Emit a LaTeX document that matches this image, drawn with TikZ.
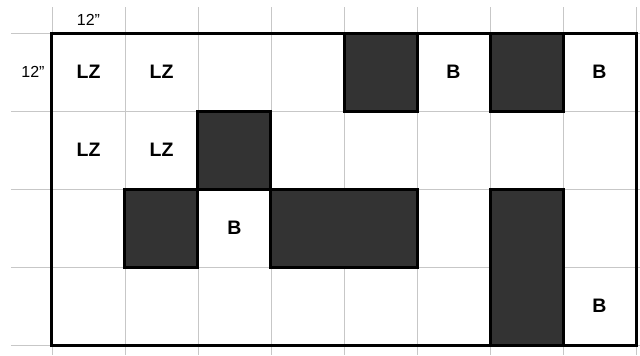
\documentclass[tikz,border=0pt]{standalone}
\usepackage{fontspec}
\setmainfont{Liberation Sans}
\usepackage{tikz}
\usetikzlibrary{positioning}

\begin{document}
\begin{tikzpicture}[
    x=73pt, y=-78pt,
    gridline/.style={draw=black!22, line width=0.8pt},
    border/.style={draw=black, line width=3pt},
    block/.style={draw=black, line width=3pt, fill=black!80},
    cell/.style={font=\fontsize{19.5}{22}\selectfont\bfseries, inner sep=0pt},
    dim/.style={font=\fontsize{16}{19}\selectfont, inner sep=0pt},
]
    \useasboundingbox[fill=white] (-0.7123,-0.4231) rectangle (8.0548,4.1282);

    % thin grid
    \foreach \i in {0,...,8}
        \draw[gridline] (\i,-0.333) -- (\i,4.1282);
    \foreach \j in {0,...,4}
        \draw[gridline] (-0.5616,\j) -- (8.0548,\j);

    % outer wall
    \draw[border] (0,0) rectangle (8,4);

    % blocked cells
    \draw[block] (4,0) rectangle (5,1);
    \draw[block] (6,0) rectangle (7,1);
    \draw[block] (2,1) rectangle (3,2);
    \draw[block] (1,2) rectangle (2,3);
    \draw[block] (3,2) rectangle (5,3);
    \draw[block] (6,2) rectangle (7,4);

    % dimensions
    \node[dim] (dimx) at (0.5,-0.167) {12\symbol{34}};
    \node[dim] (dimy) at (-0.26,0.5) {12\symbol{34}};

    % landing zone
    \node[cell] (lz1) at (0.5,0.5) {LZ};
    \node[cell] (lz2) at (1.5,0.5) {LZ};
    \node[cell] (lz3) at (0.5,1.5) {LZ};
    \node[cell] (lz4) at (1.5,1.5) {LZ};

    % beacons
    \node[cell] (b1) at (5.5,0.5) {B};
    \node[cell] (b2) at (7.5,0.5) {B};
    \node[cell] (b3) at (2.5,2.5) {B};
    \node[cell] (b4) at (7.5,3.5) {B};
\end{tikzpicture}
\end{document}
